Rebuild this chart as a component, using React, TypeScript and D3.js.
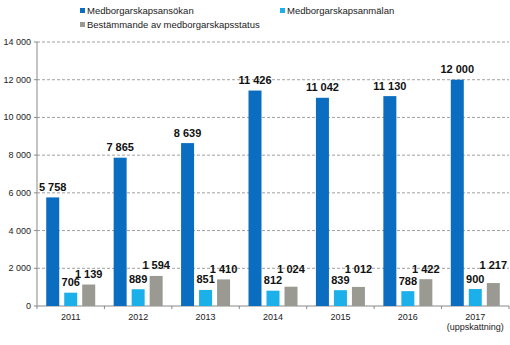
import React from "react";
import * as d3 from "d3";

const categories = ["2011", "2012", "2013", "2014", "2015", "2016", "2017"];
const subLabels = ["", "", "", "", "", "", "(uppskattning)"];
const seriesNames = ["Medborgarskapsansökan", "Medborgarskapsanmälan", "Bestämmande av medborgarskapsstatus"];
const ansokan = [5758, 7865, 8639, 11426, 11042, 11130, 12000];
const anmalan = [706, 889, 851, 812, 839, 788, 900];
const bestammande = [1139, 1594, 1410, 1024, 1012, 1422, 1217];
const yTicks = [0, 2000, 4000, 6000, 8000, 10000, 12000, 14000];
const colors = ["#0b6dbf", "#1cb0ea", "#9a9a92"];
// which gray labels were lifted in the original to avoid overlap
const grayLabelRaised = [false, false, false, true, true, false, true];

const fmt = (v: number) => {
  const s = String(v);
  return s.replace(/\B(?=(\d{3})+(?!\d))/g, "\u00a0");
};

export default function App() {
  const W = 510, H = 345;
  const left = 37, right = 509, top = 42, bottom = 306;
  const x = d3.scaleBand().domain(categories).range([left, right]).padding(0);
  const y = d3.scaleLinear().domain([0, 14000]).range([bottom, top]);
  const series = [ansokan, anmalan, bestammande];
  const barW = 13, gap = 5;
  const font = "Liberation Sans, Arial, sans-serif";

  return (
    <svg width={W} height={H} style={{ position: "absolute", left: 0, top: 0, fontFamily: font }}>
      <rect width={W} height={H} fill="#fff" />
      {/* legend */}
      {[
        { x: 80, y: 11 },
        { x: 280, y: 11 },
        { x: 80, y: 25 },
      ].map((p, i) => (
        <g key={i}>
          <rect x={p.x} y={p.y - 3} width={5} height={5} fill={colors[i]} />
          <text x={p.x + 7} y={p.y + 2.5} fontSize={9.5} fill="#222">{seriesNames[i]}</text>
        </g>
      ))}
      {/* gridlines */}
      {yTicks.filter(t => t > 0).map(t => (
        <line key={t} x1={left} x2={right} y1={y(t)} y2={y(t)} stroke="#888" strokeWidth={0.8} strokeDasharray="3,2" />
      ))}
      {/* y axis */}
      <line x1={left} x2={left} y1={top} y2={bottom} stroke="#888" strokeWidth={1} />
      {yTicks.map(t => (
        <g key={t}>
          <line x1={left - 3} x2={left} y1={y(t)} y2={y(t)} stroke="#888" />
          <text x={left - 6} y={y(t) + 3} fontSize={9} textAnchor="end" fill="#222">{fmt(t)}</text>
        </g>
      ))}
      {/* x axis */}
      <line x1={left} x2={right} y1={bottom} y2={bottom} stroke="#888" strokeWidth={1} />
      {categories.map((c) => (
        <line key={c} x1={x(c)!} x2={x(c)!} y1={bottom} y2={bottom + 3} stroke="#888" />
      ))}
      <line x1={right} x2={right} y1={bottom} y2={bottom + 3} stroke="#888" />
      {categories.map((c, i) => {
        const cx = x(c)! + x.bandwidth() / 2;
        return (
          <g key={c}>
            <text x={cx} y={bottom + 14} fontSize={9} textAnchor="middle" fill="#222">{c}</text>
            {subLabels[i] && (
              <text x={cx} y={bottom + 24} fontSize={9} textAnchor="middle" fill="#222">{subLabels[i]}</text>
            )}
          </g>
        );
      })}
      {/* bars */}
      {categories.map((c, i) => {
        const cx = x(c)! + x.bandwidth() / 2;
        return series.map((s, j) => {
          const bx = cx - barW / 2 + (j - 1) * (barW + gap);
          const v = s[i];
          const off = j === 2 && grayLabelRaised[i] ? 14 : 6.5;
          return (
            <g key={c + j}>
              <rect x={bx} y={y(v)} width={barW} height={bottom - y(v)} fill={colors[j]} />
              <text
                x={bx + barW / 2}
                y={y(v) - off}
                fontSize={11}
                fontWeight="bold"
                textAnchor="middle"
                fill="#111"
              >
                {fmt(v)}
              </text>
            </g>
          );
        });
      })}
    </svg>
  );
}
